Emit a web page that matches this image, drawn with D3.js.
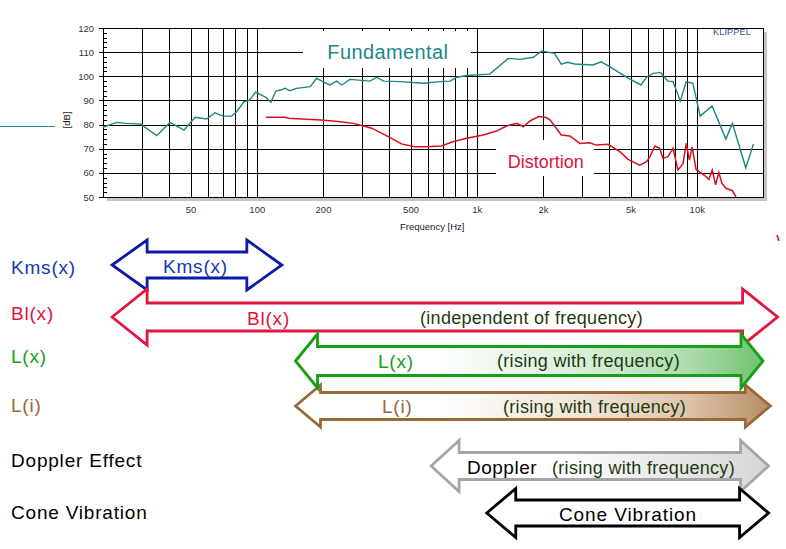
<!DOCTYPE html>
<html>
<head>
<meta charset="utf-8">
<script src="https://cdnjs.cloudflare.com/ajax/libs/d3/7.8.5/d3.min.js"></script>
<style>
  body { margin: 0; background: #fff; }
  svg { display: block; font-family: "Liberation Sans", Arial, sans-serif; }
</style>
</head>
<body>
<div id="chart"></div>
<script>
var fundamentalHz = [20, 23.1, 25.6, 29.7, 35.1, 40.3, 46.7, 52.4, 59.2, 64.5, 70.4, 76.9, 81, 87.5, 92.2, 98.8,
  110, 116, 122, 128, 134.5, 141.5, 151.5, 175, 187, 199, 215, 231, 243, 265, 327, 351, 377, 448, 570, 682, 756,
  812, 900, 1146, 1390, 1572, 1808, 1974, 2156, 2258, 2420, 2590, 2780, 3374, 3680, 3950, 4874, 5570, 5914, 6340,
  6840, 7400, 7800, 8420, 8960, 9600, 10360, 11740, 13560, 14520, 16700, 18100];
var fundamentalDb = [78.9, 80.9, 80.5, 80.2, 75.4, 80.9, 77.7, 83.0, 82.3, 84.9, 83.5, 83.5, 85.3, 89.5, 89.9, 93.4,
  91.3, 89.2, 93.9, 94.3, 95.0, 94.0, 95.0, 95.7, 99.2, 97.8, 96.4, 98.0, 96.4, 98.7, 98.0, 99.6, 98.0, 97.8, 97.1, 97.8, 98.0,
  99.6, 100.3, 100.9, 107.4, 107.0, 107.9, 110.5, 109.8, 109.5, 105.0, 105.8, 105.1, 104.7, 106.0, 104.4, 99.2, 96.4, 99.6, 101.2,
  101.6, 98.0, 97.8, 89.8, 97.8, 97.1, 83.5, 87.7, 74.0, 80.5, 62.1, 72.0];

var distortionHz = [110, 134, 140, 160, 195, 215, 239, 275, 306, 333, 390, 455, 522, 588, 691, 778, 900, 1070, 1228,
  1366, 1520, 1628, 1750, 1915, 2055, 2156, 2258, 2420, 2650, 2940, 3260, 3490, 3950, 4470, 4874, 5500, 5914, 6124,
  6450, 6780, 7020, 7400, 7800, 8210, 8650, 8960, 9260, 9520, 9920, 10250, 10800, 11360, 11760, 12180, 12600, 13000,
  13560, 14500, 15070];
var distortionDb = [83.0, 83.0, 82.6, 82.3, 81.9, 81.6, 81.2, 80.5, 79.4, 78.5, 75.3, 72.0, 70.8, 70.8, 71.1, 72.9, 74.3, 75.7, 77.3,
  79.4, 80.5, 79.1, 81.6, 83.3, 83.0, 81.9, 79.4, 75.7, 75.3, 72.2, 72.5, 71.5, 71.8, 68.8, 65.6, 63.2, 64.6, 66.7,
  71.1, 70.2, 66.0, 66.7, 70.2, 61.2, 63.7, 72.2, 65.3, 70.8, 61.5, 60.5, 59.1, 57.3, 61.2, 55.0, 60.1, 55.7,
  53.6, 52.6, 50.1];

var xTickValues = [50, 100, 200, 500, 1000, 2000, 5000, 10000];
var xTickLabels = ["50", "100", "200", "500", "1k", "2k", "5k", "10k"];
var xGridValues = [30, 40, 50, 60, 70, 80, 90, 100, 200, 300, 400, 500, 600, 700, 800, 900,
  1000, 2000, 3000, 4000, 5000, 6000, 7000, 8000, 9000, 10000];
var yTickValues = [50, 60, 70, 80, 90, 100, 110, 120];

// frequency range of each effect (arrow tips, Hz)
var effectNames = ["Kms(x)", "Bl(x)", "L(x)", "L(i)", "Doppler Effect", "Cone Vibration"];
var effectFromHz = [22, 22, 150, 150, 620, 1110];
var effectToHz = [130, 23300, 20000, 21600, 21200, 21200];

var svgWidth = 786;
var svgHeight = 549;
var margin = { top: 28, left: 103 };
var width = 660;
var height = 169;

var svg = d3.select("#chart")
  .append("svg")
  .attr("width", svgWidth)
  .attr("height", svgHeight);

var defs = svg.append("defs");
function gradient(id, x1, x2, stops) {
  var g = defs.append("linearGradient").attr("id", id)
    .attr("gradientUnits", "userSpaceOnUse")
    .attr("x1", x1).attr("x2", x2).attr("y1", 0).attr("y2", 0);
  stops.forEach(function(s) {
    g.append("stop").attr("offset", s[0]).attr("stop-color", s[1]);
  });
}
gradient("gradLx", 330, 742, [[0, "#ffffff"], [0.37, "#d8eed8"], [0.61, "#b0dcb0"], [0.85, "#60bc60"], [1, "#1ea01e"]]);
gradient("gradLi", 330, 745, [[0, "#ffffff"], [0.37, "#f0e4d8"], [0.61, "#dcc4ac"], [0.85, "#b08458"], [1, "#9a6838"]]);
gradient("gradDop", 450, 745, [[0, "#ffffff"], [1, "#c6c6c6"]]);

// scales
var xScale = d3.scaleLog().domain([20, 20000]).range([0, width]);
var yScale = d3.scaleLinear().domain([50, 120]).range([height, 0]);

// stray line at the left edge
svg.append("line")
  .attr("x1", 0).attr("x2", 55).attr("y1", 126.5).attr("y2", 126.5)
  .attr("stroke", "#2a8a86").attr("stroke-width", 1.2);

var chartGroup = svg.append("g")
  .attr("transform", `translate(${margin.left}, ${margin.top})`);

// shadow and plot background
chartGroup.append("rect")
  .attr("x", 4).attr("y", 4).attr("width", width).attr("height", height)
  .attr("fill", "#c4c4c4");
chartGroup.append("rect")
  .attr("width", width).attr("height", height)
  .attr("fill", "#fff");

// grid
chartGroup.append("g")
  .attr("transform", `translate(0, ${height})`)
  .attr("color", "#000")
  .call(d3.axisBottom(xScale).tickValues(xGridValues).tickSize(-height).tickFormat(""))
  .call(g => g.select(".domain").remove());

chartGroup.append("g")
  .attr("transform", "translate(-4, 0)")
  .attr("color", "#000")
  .call(d3.axisLeft(yScale).tickValues(yTickValues).tickSize(-(width + 4)).tickFormat(""))
  .call(g => g.select(".domain").remove());

chartGroup.append("g")
  .attr("color", "#000")
  .call(d3.axisLeft(yScale).tickValues(d3.range(50, 121, 2)).tickSize(-4).tickFormat(""))
  .call(g => g.select(".domain").remove());

chartGroup.selectAll(".tick line").attr("shape-rendering", "crispEdges");

// white label boxes over the grid (below the curves)
chartGroup.append("rect").attr("x", 200).attr("y", 3).attr("width", 168).attr("height", 37).attr("fill", "#fff");
chartGroup.append("rect").attr("x", 393).attr("y", 112).attr("width", 98).attr("height", 36).attr("fill", "#fff");

// border
chartGroup.append("rect")
  .attr("width", width).attr("height", height)
  .attr("fill", "none").attr("stroke", "#000")
  .attr("shape-rendering", "crispEdges");

// curves
var line = d3.line()
  .x(d => xScale(d[0]))
  .y(d => yScale(d[1]));

chartGroup.append("path")
  .datum(distortionHz.map((f, i) => [f, distortionDb[i]]))
  .attr("d", line)
  .attr("fill", "none")
  .attr("stroke", "#d8101e")
  .attr("stroke-width", 1.5);

chartGroup.append("path")
  .datum(fundamentalHz.map((f, i) => [f, fundamentalDb[i]]))
  .attr("d", line)
  .attr("fill", "none")
  .attr("stroke", "#1f8682")
  .attr("stroke-width", 1.4);

// tick labels
chartGroup.append("g")
  .call(d3.axisLeft(yScale).tickValues(yTickValues).tickSize(0).tickPadding(9))
  .call(g => g.select(".domain").remove())
  .selectAll("text")
  .style("font-size", "9.5px").attr("fill", "#333");

chartGroup.append("g")
  .attr("transform", `translate(0, ${height})`)
  .call(d3.axisBottom(xScale).tickValues(xTickValues).tickFormat((d, i) => xTickLabels[i]).tickSize(0).tickPadding(9))
  .call(g => g.select(".domain").remove())
  .selectAll("text")
  .style("font-size", "9.5px").attr("fill", "#333");

chartGroup.selectAll(".tick text").style("font-family", "Liberation Sans, Arial, sans-serif");

// axis labels
svg.append("text")
  .attr("x", 400).attr("y", 229.5)
  .style("font-size", "9.5px").attr("fill", "#222")
  .text("Frequency [Hz]");

svg.append("text")
  .attr("transform", "translate(69.5, 120) rotate(-90)")
  .attr("text-anchor", "middle")
  .style("font-size", "9.5px").attr("fill", "#222")
  .text("[dB]");

svg.append("text")
  .attr("x", 713).attr("y", 35)
  .style("font-size", "9px").style("letter-spacing", "0.2px")
  .attr("fill", "#3c4c8c")
  .text("KLIPPEL");

svg.append("text")
  .attr("x", 327.3).attr("y", 58.5)
  .style("font-size", "20px").style("letter-spacing", "0.4px")
  .attr("fill", "#1a8a84")
  .text("Fundamental");

svg.append("text")
  .attr("x", 507.7).attr("y", 167.7)
  .style("font-size", "18px")
  .attr("fill", "#e0143c")
  .text("Distortion");

// stray red mark at the right
svg.append("path")
  .attr("d", "M777,235 L779,241")
  .attr("stroke", "#d8101e").attr("stroke-width", 1.6);

// effect arrows
var arrowStyle = [
  { cy: 265, sh: 13, hh: 25, hl: 35, stroke: "#0c1aa8", fill: "none", label: "#1438b0" },
  { cy: 317, sh: 14, hh: 28, hl: 35, stroke: "#e2163e", fill: "none", label: "#e0143c" },
  { cy: 361, sh: 14.5, hh: 27, hl: 22, stroke: "#16a016", fill: "url(#gradLx)", label: "#18a018" },
  { cy: 406, sh: 13.5, hh: 21, hl: 25, stroke: "#9a6836", fill: "url(#gradLi)", label: "#9a6838" },
  { cy: 466, sh: 13.5, hh: 25.5, hl: 28, stroke: "#a6a6a6", fill: "url(#gradDop)", label: "#000" },
  { cy: 513, sh: 13, hh: 24.5, hl: 29, stroke: "#000", fill: "#fff", label: "#000" }
];
var labelBaselines = [274, 320, 363, 411.5, 466.7, 519];

function arrowPath(x0, x1, s) {
  var c = s.cy, h = s.hl;
  return [
    [x0, c], [x0 + h, c - s.hh], [x0 + h, c - s.sh], [x1 - h, c - s.sh], [x1 - h, c - s.hh],
    [x1, c], [x1 - h, c + s.hh], [x1 - h, c + s.sh], [x0 + h, c + s.sh], [x0 + h, c + s.hh]
  ].map(p => p.join(",")).join(" ");
}

var arrowGroup = svg.append("g")
  .attr("transform", `translate(${margin.left}, 0)`);

var drawOrder = [0, 1, 3, 2, 4, 5];
drawOrder.forEach(function(i) {
  arrowGroup.append("polygon")
    .attr("points", arrowPath(xScale(effectFromHz[i]), xScale(effectToHz[i]), arrowStyle[i]))
    .attr("fill", arrowStyle[i].fill)
    .attr("stroke", arrowStyle[i].stroke)
    .attr("stroke-width", 2.8)
    .attr("stroke-linejoin", "miter");
});

// row names on the left
svg.selectAll("text.rowname")
  .data(effectNames)
  .enter()
  .append("text")
  .classed("rowname", true)
  .attr("x", 11)
  .attr("y", (d, i) => labelBaselines[i])
  .style("font-size", "19px")
  .style("letter-spacing", "0.8px")
  .attr("fill", (d, i) => arrowStyle[i].label)
  .text(d => d);

// texts inside the arrows
var dark = "#1e3a12";
var innerTexts = [
  { t: "Kms(x)", x: 163, y: 272.5, c: "#1438b0", s: 19, ls: 0.8 },
  { t: "Bl(x)", x: 247, y: 325, c: "#e0143c", s: 19, ls: 0.8 },
  { t: "(independent of frequency)", x: 420, y: 324, c: dark, s: 18, ls: 0.3 },
  { t: "L(x)", x: 378, y: 368, c: "#18a018", s: 19, ls: 0.8 },
  { t: "(rising with frequency)", x: 497, y: 367, c: dark, s: 18, ls: 0.3 },
  { t: "L(i)", x: 382, y: 413, c: "#9a6838", s: 19, ls: 0.8 },
  { t: "(rising with frequency)", x: 503, y: 413, c: dark, s: 18, ls: 0.3 },
  { t: "Doppler", x: 467, y: 473.5, c: "#000", s: 19, ls: 0.5 },
  { t: "(rising with frequency)", x: 552, y: 474, c: dark, s: 18, ls: 0.3 },
  { t: "Cone Vibration", x: 559, y: 520.5, c: "#000", s: 19, ls: 0.9 }
];
svg.selectAll("text.inner")
  .data(innerTexts)
  .enter()
  .append("text")
  .classed("inner", true)
  .attr("x", d => d.x)
  .attr("y", d => d.y)
  .style("font-size", d => d.s + "px")
  .style("letter-spacing", d => d.ls + "px")
  .attr("fill", d => d.c)
  .text(d => d.t);
</script>
</body>
</html>
